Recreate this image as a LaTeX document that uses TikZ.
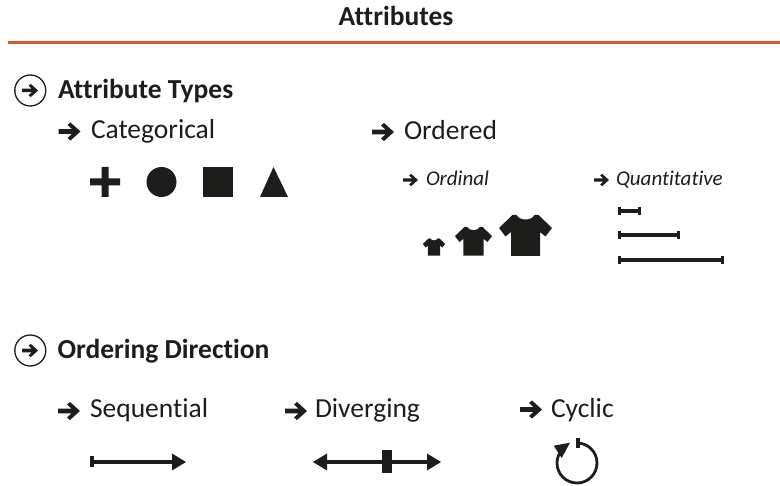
\documentclass[tikz,border=0pt]{standalone}
\usepackage{fontspec}
\usetikzlibrary{calc}
\setmainfont{Carlito}[Ligatures={NoCommon}]
\definecolor{ink}{HTML}{1D1D1B}
\definecolor{rust}{HTML}{CF5A2B}
\tikzset{
  x=1pt,y=-1pt,
  lbl/.style={anchor=base west,inner sep=0pt,outer sep=0pt,text=ink,font=\fontsize{#1}{#1}\selectfont},
  head/.style={anchor=base west,inner sep=0pt,outer sep=0pt,text=ink,font=\fontsize{#1}{#1}\selectfont\bfseries},
  ital/.style={anchor=base west,inner sep=0pt,outer sep=0pt,text=ink,font=\fontsize{#1}{#1}\selectfont\itshape},
  ring/.style={draw=ink,line width=1.3pt,fill=white},
  glyph/.pic={\fill[ink] (0,-2.4)--(13.5,-2.4)--(9,-6.5)--(12,-9)--(22,0)--(12,9)--(9,6.5)--(13.5,2.4)--(0,2.4)--cycle;},
  shirt/.pic={\fill[ink] (-14.5,41)--(-14.5,17)--(-20,21.5)--(-26.5,13)--(-13,0)--(-9,0)
     .. controls (-6,6) and (6,6) .. (9,0)--(13,0)--(26.5,13)--(20,21.5)--(14.5,17)--(14.5,41)--cycle;},
}
\begin{document}
\begin{tikzpicture}
\useasboundingbox (0,0) rectangle (780,486);
% title
\node[head=27.5,anchor=base] (title) at (396,26) {Attributes};
\coordinate (ruleL) at (8,40.8); \coordinate (ruleR) at (780,44.2);
\fill[rust] (ruleL) rectangle (ruleR);
% section 1
\node[ring,circle,minimum size=31pt,inner sep=0pt] (c1) at (30.3,90.5) {};
\pic[scale=.73] at (22,90.5) {glyph};
\node[head=27.5] (attrtypes) at (58,99) {Attribute Types};
\pic at (58.5,131.5) {glyph};
\node[lbl=27.5] (cat) at (91,139) {Categorical};
\pic at (372,132) {glyph};
\node[lbl=27.5] (ord) at (404,140) {Ordered};
\pic[scale=.68] at (403,180) {glyph};
\node[ital=21] (ordl) at (426,186) {Ordinal};
\pic[scale=.68] at (594,180) {glyph};
\node[ital=21] (quant) at (616,186) {Quantitative};
% categorical marks
\fill[ink] (90,178.5)--(101.5,178.5)--(101.5,167)--(108.5,167)--(108.5,178.5)--(120,178.5)--(120,185.5)--(108.5,185.5)--(108.5,197)--(101.5,197)--(101.5,185.5)--(90,185.5)--cycle;
\fill[ink] (161.5,182) circle[radius=15];
\fill[ink] (203,167) rectangle (233,197);
\fill[ink] (273.5,167)--(288,197)--(260,197)--cycle;
% shirts
\pic[scale=.42] at (434,238.5) {shirt};
\pic[scale=.7] at (473.5,227) {shirt};
\pic at (525.5,215) {shirt};
% quantitative bars
\foreach \n/\y/\e in {a/211/639,b/235/678,c/260/722}{
  \coordinate (\n0) at (619,\y); \coordinate (\n1) at (\e,\y);
  \fill[ink] ($(\n0)+(0,-1.8)$) rectangle ($(\n1)+(0,1.8)$);
  \fill[ink] (\n0)++(-1.5,-4)rectangle++(3,8);
  \fill[ink] (\n1)++(-1.5,-4)rectangle++(3,8);
}
% section 2
\node[ring,circle,minimum size=31pt,inner sep=0pt] (c2) at (30.3,350.5) {};
\pic[scale=.73] at (22,350.5) {glyph};
\node[head=27.5] (orderdir) at (57.5,359) {Ordering Direction};
\pic at (58,411) {glyph};
\node[lbl=27.5] (seq) at (90,418) {Sequential};
\pic at (285,411) {glyph};
\node[lbl=27.5] (div) at (315,418) {Diverging};
\pic at (520,409.5) {glyph};
\node[lbl=27.5] (cyc) at (551,418) {Cyclic};
% sequential
\coordinate (s0) at (91.5,460.2); \coordinate (s1) at (175,463.8);
\fill[ink] (s0) rectangle (s1);
\fill[ink] (90,456.5) rectangle (94,467.5);
\fill[ink] (172,453.5)--(186,462)--(172,470.5)--cycle;
% diverging
\coordinate (d0) at (320,460.2); \coordinate (d1) at (430,463.8);
\fill[ink] (d0) rectangle (d1);
\fill[ink] (382,450) rectangle (392,473);
\fill[ink] (427,453.5)--(441,462)--(427,470.5)--cycle;
\fill[ink] (327,453.5)--(313,462)--(327,470.5)--cycle;
% cyclic
\draw[ink,line width=2.8pt] (577,443) arc[start angle=90,end angle=-225,x radius=20,y radius=-20];
\fill[ink] (576,438) rectangle (580,448);
\fill[ink] (553.7,445.7)--(570,442.7)--(561.7,458)--cycle;
\end{tikzpicture}
\end{document}
